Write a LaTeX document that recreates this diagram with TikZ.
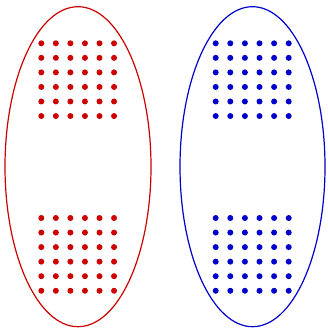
\documentclass[tikz,border=0pt]{standalone}
\definecolor{myred}{HTML}{CC0000}
\definecolor{myblue}{HTML}{0000CC}
\tikzset{
  setline/.style={line width=1.2pt},
  dotst/.style={circle, inner sep=0pt, minimum size=6pt}
}
\begin{document}
\begin{tikzpicture}[x=1pt,y=-1pt]
\useasboundingbox (0,0) rectangle (327,328);
\draw[setline, myred] (78,166.7) ellipse [x radius=73, y radius=160];
\draw[setline, myblue] (252.5,166.7) ellipse [x radius=72.5, y radius=160];
\foreach \i in {0,...,5}{
  \foreach \j in {0,...,5}{
    \node[dotst, fill=myred] (rt\i\j) at ({41.3+14.55*\i},{43.3+14.55*\j}) {};
    \node[dotst, fill=myred] (rb\i\j) at ({41.3+14.55*\i},{218+14.55*\j}) {};
    \node[dotst, fill=myblue] (bt\i\j) at ({215.7+14.6*\i},{43.3+14.55*\j}) {};
    \node[dotst, fill=myblue] (bb\i\j) at ({215.7+14.6*\i},{218+14.55*\j}) {};
  }
}
\end{tikzpicture}
\end{document}
